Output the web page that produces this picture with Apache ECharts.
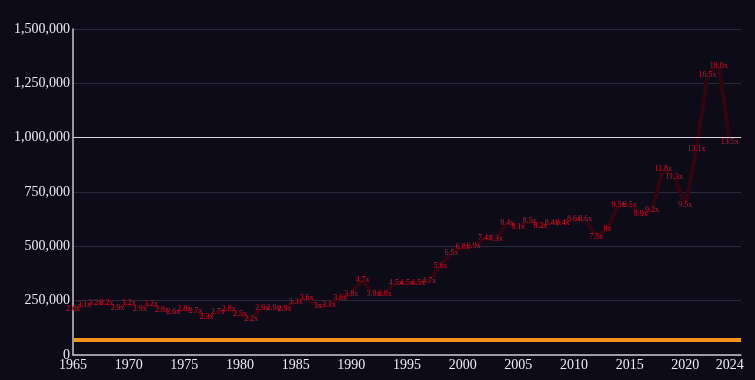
<!DOCTYPE html>
<html>
<head>
<meta charset="utf-8">
<script src="https://cdn.jsdelivr.net/npm/echarts@6/dist/echarts.min.js"></script>
<style>
html,body{margin:0;padding:0;background:#0e0b19;}
#c{width:755px;height:380px;}
</style>
</head>
<body>
<div id="c"></div>
<script>
const years = [1965,1966,1967,1968,1969,1970,1971,1972,1973,1974,1975,1976,1977,1978,1979,1980,1981,1982,1983,1984,1985,1986,1987,1988,1989,1990,1991,1992,1993,1994,1995,1996,1997,1998,1999,2000,2001,2002,2003,2004,2005,2006,2007,2008,2009,2010,2011,2012,2013,2014,2015,2016,2017,2018,2019,2020,2021,2022,2023,2024];
const values = [212000,232000,238000,238000,216000,238000,213000,235000,208000,196000,210000,202000,174000,200000,210000,188000,165000,215000,215000,214000,244000,264000,224000,230000,265000,283000,345000,283000,283000,332000,332000,334000,342000,408000,472000,497000,503000,538000,532000,610000,590000,617000,596000,608000,610000,624000,625000,545000,582000,690000,690000,648000,668000,855000,820000,690000,950000,1290000,1330000,980000];
const ratioLabels = ["2.8x","3.1x","3.2x","3.2x","2.9x","3.2x","2.9x","3.2x","2.8x","2.6x","2.8x","2.7x","2.3x","2.7x","2.8x","2.5x","2.2x","2.9x","2.9x","2.9x","3.3x","3.6x","3x","3.1x","3.6x","3.8x","4.7x","3.8x","3.8x","4.5x","4.5x","4.5x","4.7x","5.6x","6.5x","6.8x","6.9x","7.4x","7.3x","8.4x","8.1x","8.5x","8.2x","8.4x","8.4x","8.6x","8.6x","7.5x","8x","9.5x","9.5x","8.9x","9.2x","11.8x","11.3x","9.5x","13.1x","16.5x","18.0x","13.5x"];
const xTickLabels = [1965,1970,1975,1980,1985,1990,1995,2000,2005,2010,2015,2020,2024];
const yTickValues = [0,250000,500000,750000,1000000,1250000,1500000];
const baselineValue = 68000;
const referenceValue = 1000000;

const chart = echarts.init(document.getElementById('c'), null, {renderer:'canvas'});
const font = '"Liberation Serif", "DejaVu Serif", serif';
chart.setOption({
  backgroundColor: '#0e0b19',
  animation: false,
  grid: {left: 73, right: 14, top: 29, bottom: 25},
  xAxis: {
    type: 'value', min: 1965, max: 2025,
    axisLine: {show: true, lineStyle: {color: '#c8c6cc', width: 1.5}},
    axisTick: {show: false},
    splitLine: {show: false},
    axisLabel: {
      customValues: xTickLabels,
      color: '#ecebef', fontFamily: font, fontSize: 14, margin: 3,
      formatter: v => String(v)
    }
  },
  yAxis: {
    type: 'value', min: 0, max: 1500000, interval: 250000,
    axisLine: {show: true, lineStyle: {color: '#c8c6cc', width: 1.5}},
    axisTick: {show: false},
    splitLine: {show: true, lineStyle: {color: '#2c2a3a', width: 1}},
    axisLabel: {
      color: '#ecebef', fontFamily: font, fontSize: 14, margin: 3,
      formatter: v => v.toLocaleString('en-US')
    }
  },
  series: [{
    type: 'line',
    data: years.map((y, i) => [y, values[i]]),
    symbol: 'circle', symbolSize: 1, showSymbol: true,
    lineStyle: {color: '#300610', width: 4},
    itemStyle: {color: '#300610'},
    label: {
      show: true, position: 'inside',
      color: '#c8192e', fontFamily: font, fontSize: 8,
      formatter: p => ratioLabels[p.dataIndex]
    },
    markLine: {
      silent: true, symbol: 'none', label: {show: false},
      data: [
        {yAxis: baselineValue, lineStyle: {color: '#f5921e', width: 4, type: 'solid'}},
        {yAxis: referenceValue, lineStyle: {color: '#d8d6dc', width: 1.2, type: 'solid'}}
      ]
    },
    z: 3
  }]
});
</script>
</body>
</html>
